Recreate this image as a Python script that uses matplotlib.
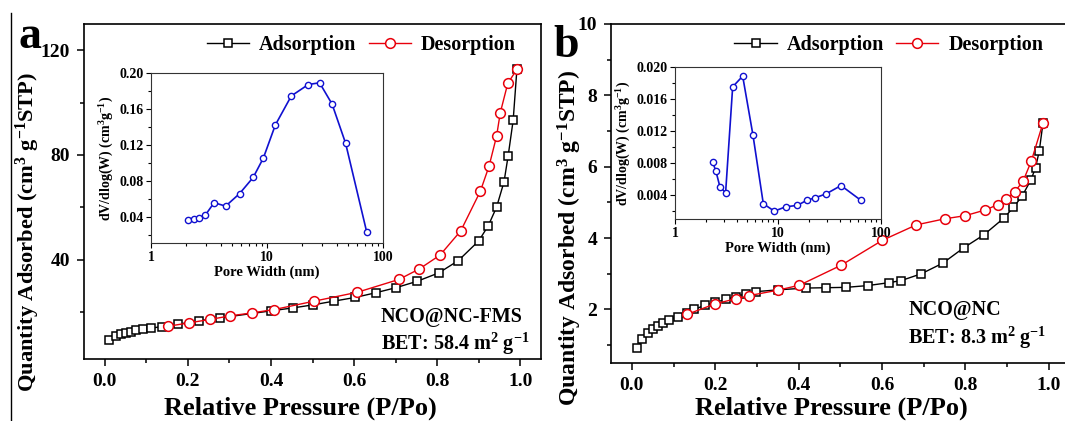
import numpy as np
import matplotlib
matplotlib.use('Agg')
import matplotlib.pyplot as plt
from matplotlib.ticker import MultipleLocator, LogLocator, NullFormatter
from matplotlib.lines import Line2D

plt.rcParams['font.family'] = ['Liberation Serif', 'DejaVu Serif']
plt.rcParams['font.weight'] = 'bold'
plt.rcParams['axes.labelweight'] = 'bold'
plt.rcParams['mathtext.fontset'] = 'custom'
plt.rcParams['mathtext.rm'] = 'Liberation Serif:bold'
plt.rcParams['mathtext.bf'] = 'Liberation Serif:bold'
plt.rcParams['mathtext.default'] = 'rm'

# panel a: NCO@NC-FMS isotherm
a_ads_p = [0.011, 0.026, 0.039, 0.051, 0.0625, 0.076, 0.092, 0.112, 0.1375, 0.177, 0.226, 0.2775,
           0.40, 0.452, 0.502, 0.551, 0.602, 0.652, 0.702, 0.752, 0.804, 0.851, 0.90, 0.923,
           0.943, 0.961, 0.971, 0.983, 0.992]
a_ads_q = [9.4, 10.7, 11.5, 12.1, 12.5, 13.0, 13.4, 13.8, 14.4, 15.3, 16.6, 17.7,
           20.4, 21.5, 22.7, 24.1, 25.5, 27.3, 29.3, 31.7, 34.9, 39.6, 47.1, 52.9,
           60.0, 69.7, 79.7, 93.2, 112.7]
a_des_p = [0.152, 0.2025, 0.2525, 0.3025, 0.354, 0.408, 0.504, 0.608, 0.708, 0.757, 0.807, 0.857,
           0.904, 0.925, 0.943, 0.952, 0.97, 0.992]
a_des_q = [14.5, 15.8, 17.1, 18.5, 19.6, 20.9, 24.1, 27.5, 32.4, 36.4, 41.7, 51.0,
           66.1, 75.7, 87.1, 96.1, 107.3, 112.7]
# panel a inset: pore size distribution
a_pore_w = [2.1, 2.35, 2.6, 2.95, 3.5, 4.4, 5.8, 7.6, 9.3, 11.8, 16.2, 22.7, 28.4, 36.4, 47.6, 72.4]
a_pore_v = [0.0366, 0.0381, 0.0389, 0.0423, 0.0558, 0.052, 0.0659, 0.0839, 0.1054, 0.1422,
            0.1745, 0.1872, 0.1891, 0.1654, 0.1219, 0.0231]

# panel b: NCO@NC isotherm
b_ads_p = [0.013, 0.025, 0.039, 0.05, 0.062, 0.074, 0.09, 0.111, 0.133, 0.15, 0.175, 0.2, 0.225,
           0.249, 0.273, 0.298, 0.35, 0.417, 0.466, 0.514, 0.566, 0.616, 0.646, 0.694, 0.746,
           0.796, 0.844, 0.892, 0.915, 0.936, 0.957, 0.968, 0.977, 0.986]
b_ads_q = [0.92, 1.17, 1.33, 1.45, 1.55, 1.63, 1.71, 1.80, 1.91, 2.0, 2.12, 2.20, 2.28,
           2.36, 2.44, 2.50, 2.55, 2.60, 2.61, 2.62, 2.67, 2.75, 2.81, 3.0, 3.30,
           3.73, 4.09, 4.56, 4.86, 5.18, 5.63, 5.97, 6.44, 7.23]
b_des_p = [0.132, 0.2, 0.25, 0.282, 0.35, 0.402, 0.502, 0.601, 0.682, 0.75, 0.80, 0.848,
           0.878, 0.898, 0.918, 0.938, 0.958, 0.986]
b_des_q = [1.86, 2.16, 2.30, 2.39, 2.54, 2.68, 3.24, 3.94, 4.37, 4.54, 4.63, 4.79,
           4.94, 5.09, 5.30, 5.59, 6.16, 7.23]
b_pore_w = [2.32, 2.50, 2.73, 3.10, 3.63, 4.54, 5.72, 7.20, 9.21, 11.9, 15.4, 19.0, 23.0, 29.2, 40.9, 63.9]
b_pore_v = [0.00813, 0.00695, 0.00501, 0.00429, 0.01752, 0.01886, 0.01145, 0.00291, 0.00198,
            0.00253, 0.0027, 0.00333, 0.00366, 0.00413, 0.00518, 0.00333]

W, H = 1065, 421
fig = plt.figure(figsize=(W / 100, H / 100), dpi=100)


def box(l, t, r, b):
    return [l / W, 1 - b / H, (r - l) / W, (b - t) / H]


def style_main(ax, ylab_size, ylab_xy, xlab_xy):
    for s in ax.spines.values():
        s.set_linewidth(1.2)
    ax.tick_params(which='both', direction='out', top=False, right=False, width=1.1,
                   labelsize=14, pad=5)
    ax.tick_params(which='major', length=5)
    ax.tick_params(which='minor', length=3)
    ax.xaxis.set_major_locator(MultipleLocator(0.2))
    ax.xaxis.set_minor_locator(MultipleLocator(0.1))
    ax.set_xlim(-0.05, 1.05)
    ax.set_xlabel('Relative Pressure (P/Po)', fontsize=19, va='center')
    ax.xaxis.set_label_coords(*xlab_xy)
    ax.set_ylabel('Quantity Adsorbed (cm$^3$ g$^{-1}$STP)', fontsize=ylab_size, va='center')
    ax.yaxis.set_label_coords(*ylab_xy)


def iso(ax, ads_p, ads_q, des_p, des_q):
    ax.plot(ads_p, ads_q, '-s', color='black', lw=1.0, ms=6, mfc='white', mec='black', mew=1.1,
            label='Adsorption')
    ax.plot(des_p, des_q, '-o', color='#e8000b', lw=1.0, ms=7, mfc='white', mec='#e8000b', mew=1.1,
            label='Desorption')


def style_inset(ax, w, v):
    ax.plot(w, v, '-o', color='#1010d0', lw=1.2, ms=4.5, mfc='white', mec='#1010d0', mew=1.0)
    ax.set_xscale('log')
    ax.set_xlim(1, 100)
    ax.xaxis.set_major_locator(LogLocator(base=10))
    ax.xaxis.set_minor_locator(LogLocator(base=10, subs=np.arange(2, 10)))
    ax.xaxis.set_minor_formatter(NullFormatter())
    for s in ax.spines.values():
        s.set_linewidth(0.8)
        s.set_color('#333333')
    ax.tick_params(which='both', direction='out', top=False, right=False, width=0.8, labelsize=10, pad=2)
    ax.tick_params(which='major', length=3.5)
    ax.tick_params(which='minor', length=2)
    ax.set_xlabel('Pore Width (nm)', fontsize=10.5, labelpad=1)
    ax.set_ylabel('dV/dlog(W) (cm$^3$g$^{-1}$)', fontsize=10, labelpad=2)
    ax.xaxis.set_major_formatter(plt.FuncFormatter(lambda x, p: '%d' % x))


# ---- panel a ----
ax1 = fig.add_axes(box(84, 24, 541, 359))
iso(ax1, a_ads_p, a_ads_q, a_des_p, a_des_q)
style_main(ax1, 16.2, (-0.122, 0.379), (0.473, -0.146))
ax1.set_ylim(2, 130)
ax1.yaxis.set_major_locator(MultipleLocator(40))
ax1.yaxis.set_minor_locator(MultipleLocator(20))
ax1.legend(loc='center', bbox_to_anchor=(0.607, 0.937), ncol=2, frameon=False, fontsize=14.5,
           handlelength=2.1, handletextpad=0.5, columnspacing=0.6, borderpad=0)
ax1.text(0.65, 0.125, 'NCO@NC-FMS', transform=ax1.transAxes, fontsize=14.5, va='center', ha='left')
ax1.text(0.65, 0.045, 'BET: 58.4 m$^2$ g$^{-1}$', transform=ax1.transAxes, fontsize=14.5,
         va='center', ha='left')

in1 = fig.add_axes(box(151, 73, 383, 243))
style_inset(in1, a_pore_w, a_pore_v)
in1.set_ylim(0.011, 0.20)
in1.yaxis.set_major_locator(MultipleLocator(0.04))
in1.yaxis.set_minor_locator(MultipleLocator(0.02))
in1.yaxis.set_major_formatter(plt.FuncFormatter(lambda y, p: '%.2f' % y))

# ---- panel b ----
ax2 = fig.add_axes(box(611, 24, 611 + 1.1 * 417, 363))
iso(ax2, b_ads_p, b_ads_q, b_des_p, b_des_q)
style_main(ax2, 17.0, (-0.0894, 0.369), (0.48, -0.133))
ax2.set_ylim(0.5, 10)
ax2.yaxis.set_major_locator(MultipleLocator(2))
ax2.yaxis.set_minor_locator(MultipleLocator(1))
ax2.legend(loc='center', bbox_to_anchor=(0.606, 0.938), ncol=2, frameon=False, fontsize=14.5,
           handlelength=2.1, handletextpad=0.5, columnspacing=0.6, borderpad=0)
ax2.text(0.648, 0.156, 'NCO@NC', transform=ax2.transAxes, fontsize=14.5, va='center', ha='left')
ax2.text(0.648, 0.074, 'BET: 8.3 m$^2$ g$^{-1}$', transform=ax2.transAxes, fontsize=14.5,
         va='center', ha='left')

in2 = fig.add_axes(box(675, 67, 881, 219))
style_inset(in2, b_pore_w, b_pore_v)
in2.set_ylim(0.001, 0.020)
in2.yaxis.set_major_locator(MultipleLocator(0.004))
in2.yaxis.set_minor_locator(MultipleLocator(0.002))
in2.yaxis.set_major_formatter(plt.FuncFormatter(lambda y, p: '%.3f' % y))

# panel letters and the left border line
fig.text(19 / W, 1 - 48 / H, 'a', fontsize=33, va='baseline', ha='left')
fig.text(553 / W, 1 - 57 / H, 'b', fontsize=33, va='baseline', ha='left')
fig.add_artist(Line2D([11 / W, 11 / W], [0, 1 - 13 / H], color='black', lw=1.0))

fig.savefig('out.png', dpi=100)
